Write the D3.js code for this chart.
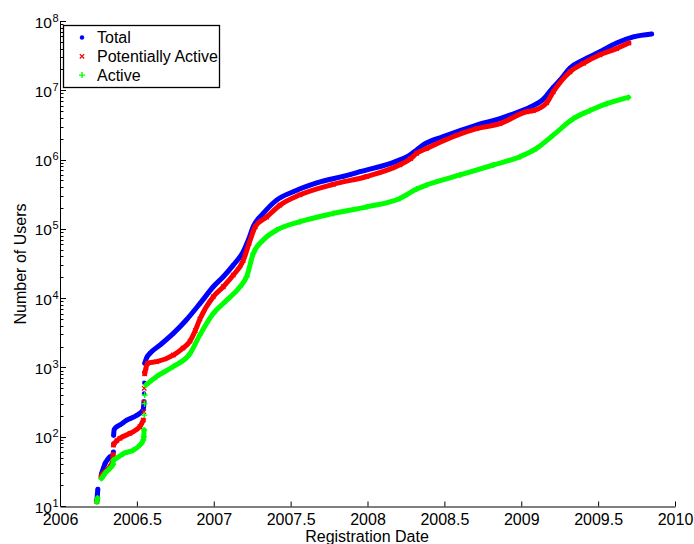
<!DOCTYPE html>
<html>
<head>
<meta charset="utf-8">
<script src="https://cdn.jsdelivr.net/npm/d3@7"></script>
<style>
  body { margin: 0; background: #fff; }
  svg { display: block; font-family: "Liberation Sans", Arial, Helvetica, sans-serif; }
</style>
</head>
<body>
<svg id="chart" width="694" height="544"></svg>
<script>
// Cumulative user counts by registration date
const seriesNames = ["Total", "Potentially Active", "Active"];

const totalYears = [2006.240, 2006.243, 2006.246, 2006.271, 2006.282, 2006.293, 2006.310, 2006.325, 2006.340, 2006.347,
  2006.348, 2006.349, 2006.352, 2006.370, 2006.390, 2006.434, 2006.500, 2006.540, 2006.544, 2006.546,
  2006.547, 2006.548, 2006.549, 2006.551, 2006.565, 2006.585, 2006.650, 2006.737, 2006.820, 2006.911,
  2006.997, 2007.062, 2007.127, 2007.192, 2007.225, 2007.257, 2007.322, 2007.409, 2007.517, 2007.670,
  2007.886, 2007.951, 2008.190, 2008.280, 2008.320, 2008.363, 2008.493, 2008.710, 2008.862, 2008.927,
  2009.057, 2009.143, 2009.208, 2009.252, 2009.317, 2009.404, 2009.512, 2009.620, 2009.729, 2009.848];
const totalValues = [12, 14.5, 17.5, 29.6, 35, 41, 47, 51.5, 52, 60,
  80, 105, 126, 140, 148, 173, 204, 243, 270, 320,
  420, 600, 850, 1150, 1400, 1600, 2100, 3100, 4800, 8400,
  14600, 20400, 30000, 47000, 69000, 108000, 167000, 260000, 343000, 460000,
  605000, 668000, 950000, 1180000, 1380000, 1630000, 2140000, 3150000, 3900000, 4400000,
  5700000, 7400000, 11000000, 14000000, 21000000, 27500000, 36000000, 48000000, 59000000, 65000000];

const potentialYears = [2006.240, 2006.243, 2006.266, 2006.280, 2006.293, 2006.310, 2006.325, 2006.342, 2006.346, 2006.348,
  2006.370, 2006.390, 2006.455, 2006.520, 2006.542, 2006.545, 2006.546, 2006.548, 2006.551, 2006.560,
  2006.570, 2006.629, 2006.737, 2006.800, 2006.846, 2006.880, 2006.910, 2006.997, 2007.062, 2007.127,
  2007.192, 2007.230, 2007.270, 2007.344, 2007.431, 2007.561, 2007.778, 2007.995, 2008.211, 2008.280,
  2008.320, 2008.385, 2008.710, 2008.862, 2009.035, 2009.079, 2009.165, 2009.208, 2009.317, 2009.404,
  2009.512, 2009.620, 2009.700];
const potentialValues = [11.5, 12.5, 26.5, 29, 31, 34, 37, 44, 55, 76,
  88, 95, 112, 140, 174, 230, 317, 500, 810, 1000,
  1150, 1210, 1510, 1900, 2400, 3400, 5000, 10500, 14600, 21500,
  35000, 62000, 107000, 148000, 220000, 310000, 440000, 570000, 840000, 1030000,
  1230000, 1450000, 2800000, 3300000, 4900000, 5100000, 6600000, 9500000, 18500000, 24500000,
  32500000, 40000000, 48000000];

const activeYears = [2006.240, 2006.244, 2006.270, 2006.293, 2006.325, 2006.345, 2006.347, 2006.368, 2006.412, 2006.477,
  2006.520, 2006.542, 2006.545, 2006.547, 2006.548, 2006.550, 2006.551, 2006.560, 2006.629, 2006.737,
  2006.846, 2006.910, 2006.997, 2007.084, 2007.171, 2007.214, 2007.257, 2007.322, 2007.409, 2007.561,
  2007.778, 2007.995, 2008.211, 2008.320, 2008.385, 2008.602, 2008.818, 2008.992, 2009.100, 2009.208,
  2009.339, 2009.447, 2009.556, 2009.697];
const activeValues = [11.5, 13, 25, 29.6, 35, 40, 46, 49, 57, 64,
  76, 90, 100, 125, 205, 300, 400, 560, 740, 1030,
  1590, 2950, 6000, 9300, 14600, 20400, 44000, 69000, 96000, 127000,
  167000, 208000, 275000, 375000, 430000, 600000, 835000, 1100000, 1450000, 2250000,
  3900000, 5100000, 6400000, 7900000];

const xTicks = [2006, 2006.5, 2007, 2007.5, 2008, 2008.5, 2009, 2009.5, 2010];
const xTickLabels = ["2006", "2006.5", "2007", "2007.5", "2008", "2008.5", "2009", "2009.5", "2010"];
const yExponents = [1, 2, 3, 4, 5, 6, 7, 8];

const colors = ["#0000ff", "#ff0000", "#00ff00"];
const markers = ["dot", "cross", "plus"];

const svg = d3.select("#chart");
const x = d3.scaleLinear().domain([2006, 2010]).range([60, 675]);
const y = d3.scaleLog().domain([10, 1e8]).range([506, 21]);

// Y axis (log) with major and minor ticks pointing inward
const yAxis = svg.append("g");
yAxis.append("line").attr("x1", 60.5).attr("x2", 60.5)
  .attr("y1", y(1e8)).attr("y2", y(10)).attr("stroke", "#000").attr("stroke-width", 1);
yExponents.forEach(e => {
  const v = Math.pow(10, e);
  const py = Math.round(y(v)) + 0.5;
  yAxis.append("line").attr("x1", 60.5).attr("x2", 66).attr("y1", py).attr("y2", py)
    .attr("stroke", "#000");
  yAxis.append("text").attr("x", 52).attr("y", y(v) + 6.5)
    .attr("text-anchor", "end").attr("font-size", 15.5).attr("fill", "#000").text("10");
  yAxis.append("text").attr("x", 52.5).attr("y", y(v) + 0.5)
    .attr("font-size", 11).attr("fill", "#000").text(String(e));
  if (e < 8) {
    for (let m = 2; m <= 9; m++) {
      const pm = Math.round(y(m * v)) + 0.5;
      yAxis.append("line").attr("x1", 60.5).attr("x2", 63.5).attr("y1", pm).attr("y2", pm)
        .attr("stroke", "#000");
    }
  }
});

// X axis with inward ticks
const xAxis = svg.append("g").attr("transform", "translate(0,506.5)")
  .call(d3.axisBottom(x).tickValues(xTicks).tickFormat((d, i) => xTickLabels[i])
    .tickSizeInner(-5).tickSizeOuter(0).tickPadding(7.5));
xAxis.select(".domain").attr("stroke", "#000");
xAxis.selectAll(".tick line").attr("stroke", "#000");
xAxis.selectAll("text").attr("font-size", 16).attr("fill", "#000")
  .attr("font-family", "\"Liberation Sans\", Arial, sans-serif");

// Axis titles
svg.append("text").attr("x", 367).attr("y", 541.5).attr("text-anchor", "middle")
  .attr("font-size", 16).attr("fill", "#000").text("Registration Date");
svg.append("text").attr("transform", "translate(26,264) rotate(-90)").attr("text-anchor", "middle")
  .attr("font-size", 16).attr("fill", "#000").text("Number of Users");

// Marker shapes
function drawMarker(g, cx, cy, kind, color) {
  if (kind === "dot") {
    g.append("circle").attr("cx", cx).attr("cy", cy).attr("r", 2.2).attr("fill", color);
  } else if (kind === "cross") {
    const s = 2.2;
    g.append("path").attr("d", `M${cx - s},${cy - s}L${cx + s},${cy + s}M${cx - s},${cy + s}L${cx + s},${cy - s}`)
      .attr("stroke", color).attr("stroke-width", 1.3).attr("fill", "none");
  } else {
    const s = 3;
    g.append("path").attr("d", `M${cx - s},${cy}L${cx + s},${cy}M${cx},${cy - s}L${cx},${cy + s}`)
      .attr("stroke", color).attr("stroke-width", 1.4).attr("fill", "none");
  }
}

// Split a series into runs; a near-vertical jump leaves separate markers
function runs(pts) {
  const out = [];
  let cur = [pts[0]];
  for (let i = 1; i < pts.length; i++) {
    const a = pts[i - 1], b = pts[i];
    const dx = Math.abs(x(b.t) - x(a.t));
    const dy = Math.abs(y(b.v) - y(a.v));
    if (dy > 7 && dy > 4 * dx) { out.push(cur); cur = [b]; }
    else cur.push(b);
  }
  out.push(cur);
  return out;
}

const data = [
  d3.zip(totalYears, totalValues).map(([t, v]) => ({ t, v })),
  d3.zip(potentialYears, potentialValues).map(([t, v]) => ({ t, v })),
  d3.zip(activeYears, activeValues).map(([t, v]) => ({ t, v }))
];

const line = d3.line().x(d => x(d.t)).y(d => y(d.v)).curve(d3.curveMonotoneX);

data.forEach((pts, i) => {
  const g = svg.append("g");
  runs(pts).filter(r => r.length > 1).forEach(r => {
    g.append("path").attr("d", line(r)).attr("fill", "none")
      .attr("stroke", colors[i]).attr("stroke-width", 5)
      .attr("stroke-linecap", "round").attr("stroke-linejoin", "round");
  });
  pts.forEach(p => drawMarker(g, x(p.t), y(p.v), markers[i], colors[i]));
});

// Legend
const lg = svg.append("g");
lg.append("rect").attr("x", 63.5).attr("y", 25.5).attr("width", 156).attr("height", 62)
  .attr("fill", "#fff").attr("stroke", "#000").attr("stroke-width", 1.3);
seriesNames.forEach((name, i) => {
  const base = 43.3 + i * 18.8;
  drawMarker(lg, 82, base - 5.8, markers[i], colors[i]);
  lg.append("text").attr("x", 97).attr("y", base).attr("font-size", 16).attr("fill", "#000").text(name);
});
</script>
</body>
</html>
